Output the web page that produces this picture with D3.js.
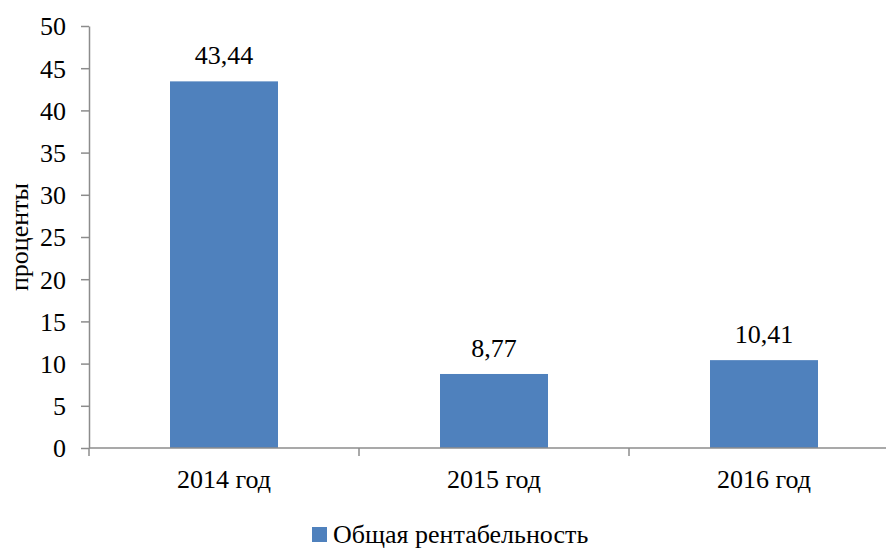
<!DOCTYPE html>
<html>
<head>
<meta charset="utf-8">
<script src="https://cdn.jsdelivr.net/npm/d3@7/dist/d3.min.js"></script>
</head>
<body style="margin:0">
<svg id="chart" width="886" height="548"></svg>
<script>
const categories = ["2014 год", "2015 год", "2016 год"];
const values = [43.44, 8.77, 10.41];
const valueLabels = ["43,44", "8,77", "10,41"];
const yTicks = [0, 5, 10, 15, 20, 25, 30, 35, 40, 45, 50];
const seriesName = "Общая рентабельность";
const yTitle = "проценты";

const fontSize = 26;
const axisColor = "#8c8c8c";
const barColor = "#4f81bd";

const svg = d3.select("#chart").attr("font-family", "Liberation Serif");

const margin = { left: 89, top: 26, bottom: 448 };
const bandW = 270;

const x = d3.scaleBand()
  .domain(categories)
  .range([margin.left, margin.left + bandW * categories.length])
  .paddingInner(0.6)
  .paddingOuter(0.3);

const y = d3.scaleLinear().domain([0, 50]).range([margin.bottom, margin.top]);

function styleText(sel) {
  sel.attr("font-family", "Liberation Serif")
    .style("font-family", d => '"Liberation Serif"')
    .style("font-size", fontSize + "px")
    .attr("fill", "#000");
}

// Bars
svg.append("g").selectAll("rect")
  .data(values)
  .join("rect")
  .attr("x", (d, i) => x(categories[i]))
  .attr("width", x.bandwidth())
  .attr("y", d => y(d))
  .attr("height", d => y(0) - y(d))
  .attr("fill", barColor);

// Value labels above the bars
svg.append("g").selectAll("text")
  .data(values)
  .join("text")
  .attr("x", (d, i) => x(categories[i]) + x.bandwidth() / 2)
  .attr("y", d => y(d) - 17)
  .attr("text-anchor", "middle")
  .text((d, i) => valueLabels[i])
  .call(styleText);

// Y axis
const yAxis = svg.append("g")
  .attr("transform", `translate(${margin.left},0)`)
  .call(d3.axisLeft(y).tickValues(yTicks).tickSize(8).tickSizeOuter(0).tickPadding(15));
yAxis.attr("font-family", "Liberation Serif").attr("font-size", fontSize);
yAxis.select(".domain").attr("stroke", axisColor).attr("stroke-width", 1.5);
yAxis.selectAll(".tick line").attr("stroke", axisColor).attr("stroke-width", 1.5);
yAxis.selectAll(".tick text").call(styleText);
yAxis.selectAll(".tick text").attr("dy", "0.34em");

// X axis with ticks between categories
const bounds = d3.range(categories.length + 1).map(i => margin.left + i * bandW);
const xg = svg.append("g");
xg.append("line")
  .attr("x1", margin.left).attr("x2", bounds[bounds.length - 1])
  .attr("y1", y(0)).attr("y2", y(0))
  .attr("stroke", axisColor).attr("stroke-width", 1.5);
xg.selectAll("line.sep")
  .data(bounds)
  .join("line")
  .attr("class", "sep")
  .attr("x1", d => d).attr("x2", d => d)
  .attr("y1", y(0)).attr("y2", y(0) + 8)
  .attr("stroke", axisColor).attr("stroke-width", 1.5);
xg.selectAll("text")
  .data(categories)
  .join("text")
  .attr("x", d => x(d) + x.bandwidth() / 2)
  .attr("y", y(0) + 40)
  .attr("text-anchor", "middle")
  .text(d => d)
  .call(styleText);

// Y axis title
svg.append("text")
  .attr("transform", `translate(28, ${(margin.top + margin.bottom) / 2}) rotate(-90)`)
  .attr("text-anchor", "middle")
  .text(yTitle)
  .call(styleText);

// Legend
const legend = svg.append("g").attr("transform", "translate(312, 527)");
legend.append("rect").attr("width", 15).attr("height", 15).attr("fill", barColor);
legend.append("text")
  .attr("x", 21).attr("y", 16)
  .text(seriesName)
  .call(styleText);
</script>
</body>
</html>
